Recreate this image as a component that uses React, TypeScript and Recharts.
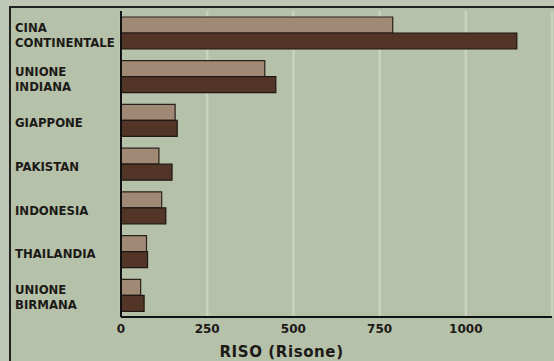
import { BarChart, Bar, XAxis, YAxis, CartesianGrid, Label } from 'recharts'

const countries = [
  'CINA\nCONTINENTALE',
  'UNIONE\nINDIANA',
  'GIAPPONE',
  'PAKISTAN',
  'INDONESIA',
  'THAILANDIA',
  'UNIONE\nBIRMANA',
]
const earlier = [788, 417, 157, 110, 118, 74, 57]
const later = [1148, 449, 163, 148, 130, 77, 67]
const xTicks = [0, 250, 500, 750, 1000]

const data = countries.map((name, i) => ({ name, earlier: earlier[i], later: later[i] }))

const BG = '#b6c1aa'
const INK = '#1c1a17'
const FONT = 'DejaVu Sans Condensed, DejaVu Sans, sans-serif'

function CountryTick({ y, payload }: any) {
  const lines = String(payload.value).split('\n')
  const base = lines.length > 1 ? y - 1 : y + 7
  return (
    <text x={15} y={base} fill={INK} fontSize={13} fontWeight="bold" fontFamily={FONT} textAnchor="start">
      {lines.map((l, i) => (
        <tspan key={i} x={15} dy={i === 0 ? 0 : 15}>
          {l}
        </tspan>
      ))}
    </text>
  )
}

function AxisTitle({ viewBox }: any) {
  const { x, y, width, height } = viewBox
  return (
    <text
      x={x + width / 2 - 55}
      y={y + height - 4}
      textAnchor="middle"
      fill={INK}
      fontSize={15}
      fontWeight="bold"
      fontFamily="DejaVu Sans, sans-serif"
      letterSpacing={0.6}
    >
      RISO (Risone)
    </text>
  )
}

export default function App() {
  return (
    <div style={{ position: 'absolute', left: 0, top: 0, width: 554, height: 361, background: '#bdc7b3', overflow: 'hidden' }}>
      <div
        style={{
          position: 'absolute',
          left: 9,
          top: 6,
          width: 545,
          height: 355,
          background: BG,
          borderLeft: '2px solid #222',
          borderTop: '2px solid #222',
          boxSizing: 'border-box',
        }}
      />
      <div style={{ position: 'absolute', left: 0, top: 0 }}>
        <BarChart
          width={554}
          height={361}
          data={data}
          layout="vertical"
          margin={{ top: 11, right: 2, bottom: 0, left: 0 }}
          barCategoryGap={6}
          barGap={0}
        >
          <CartesianGrid horizontal={false} stroke="#c9d2be" strokeWidth={2.5} />
          <XAxis
            type="number"
            domain={[0, 1250]}
            ticks={xTicks}
            height={44}
            axisLine={{ stroke: '#111', strokeWidth: 2 }}
            tickLine={false}
            tickSize={0}
            tickMargin={7}
            tick={{ fill: INK, fontSize: 12, fontWeight: 'bold', fontFamily: 'DejaVu Sans, sans-serif' }}
          >
            <Label content={<AxisTitle />} />
          </XAxis>
          <YAxis
            type="category"
            dataKey="name"
            width={121}
            axisLine={{ stroke: '#111', strokeWidth: 2 }}
            tickLine={false}
            tick={<CountryTick />}
            interval={0}
          />
          <Bar dataKey="earlier" fill="#a08a76" stroke="#2a211a" strokeWidth={1.2} isAnimationActive={false} />
          <Bar dataKey="later" fill="#523526" stroke="#1e1712" strokeWidth={1.2} isAnimationActive={false} />
        </BarChart>
      </div>
    </div>
  )
}
